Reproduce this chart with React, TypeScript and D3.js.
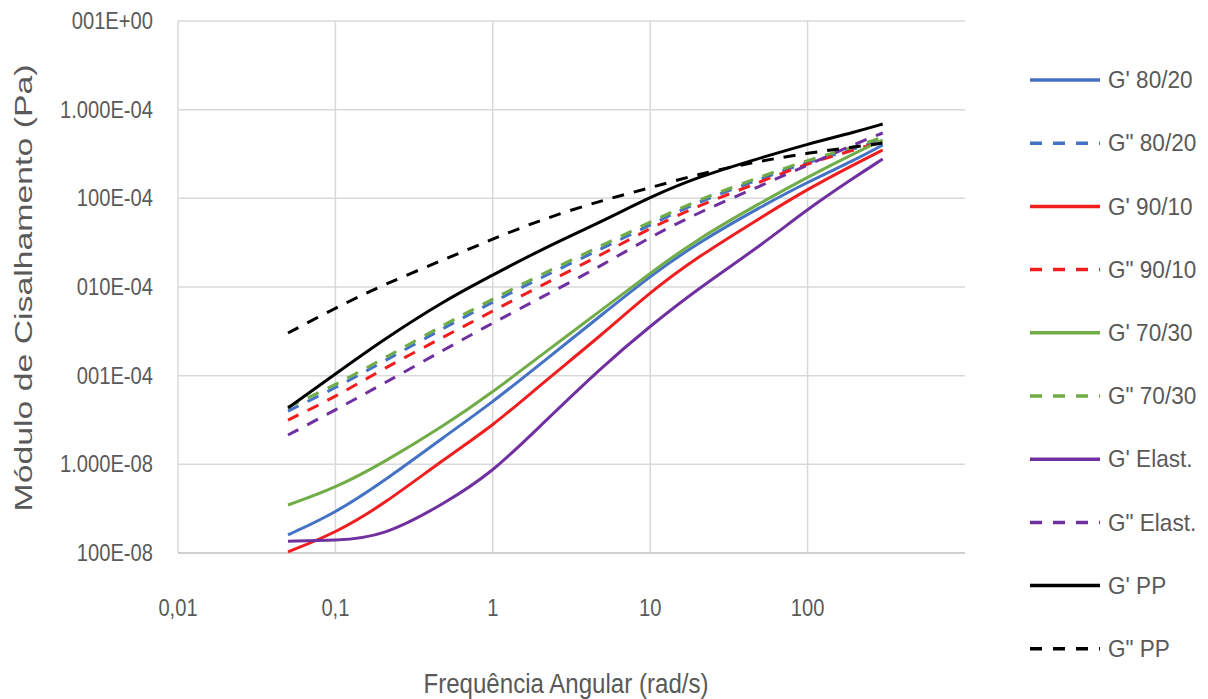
import React from "react";
import * as d3 from "d3";

const freq = [0.05, 0.1, 0.2, 0.5, 1, 2, 5, 10, 20, 50, 100, 200, 300];

const gp8020 = [1.6, 2.83, 6.32, 20.9, 50.5, 135, 496, 1331, 3135, 7984, 15280, 27060, 39950];
const gpp8020 = [39.9, 72.6, 142.6, 354, 677, 1262, 2754, 5003, 9092, 16520, 25700, 35980, 46670];
const gp9010 = [1.03, 1.68, 3.48, 11.8, 27.1, 78.5, 295, 878, 2179, 6000, 12740, 24380, 35080];
const gpp9010 = [31.6, 57.5, 119, 280, 536, 1026, 2355, 4626, 8185, 15280, 25000, 35080, 44340];
const gp7030 = [3.48, 5.41, 10.35, 27.8, 65.4, 166.7, 564.8, 1438, 3477, 8857, 17400, 32440, 45490];
const gpp7030 = [44.3, 78.5, 154, 383, 732, 1365, 2978, 5410, 9572, 17400, 27060, 37930, 49170];
const gpElast = [1.36, 1.38, 1.52, 3.66, 8.2, 27.1, 128.5, 363, 949, 2900, 7580, 17400, 27770];
const gppElast = [21.4, 41.0, 80.5, 200, 393, 751, 1771, 3664, 6834, 13770, 23770, 41020, 54550];
const gpPP = [43.2, 104.5, 252.5, 713.5, 1365, 2614, 5551, 10350, 17400, 28500, 41000, 55980, 68870];
const gppPP = [303, 579, 1054, 2069, 3476, 5700, 9572, 13070, 18790, 26370, 32450, 37930, 42070];

const seriesNames = ["G' 80/20", 'G" 80/20', "G' 90/10", 'G" 90/10', "G' 70/30", 'G" 70/30', "G' Elast.", 'G" Elast.', "G' PP", 'G" PP'];
const seriesValues = [gp8020, gpp8020, gp9010, gpp9010, gp7030, gpp7030, gpElast, gppElast, gpPP, gppPP];
const seriesColors = ["#4472C4", "#4472C4", "#F01E1E", "#F01E1E", "#70AD47", "#70AD47", "#7030A0", "#7030A0", "#000000", "#000000"];
const seriesDashed = [false, true, false, true, false, true, false, true, false, true];

const xTickValues = [0.01, 0.1, 1, 10, 100];
const xTickLabels = ["0,01", "0,1", "1", "10", "100"];
const yTickValues = [1, 10, 100, 1000, 10000, 100000, 1000000];
const yTickLabels = ["100E-08", "1.000E-08", "001E-04", "010E-04", "100E-04", "1.000E-04", "001E+00"];

const W = 1208;
const H = 699;
const left = 178;
const right = 965;
const top = 21;
const bottom = 553;
const textColor = "#595959";
const font = "'Liberation Sans', Arial, sans-serif";

export default function App() {
  const x = d3.scaleLog().domain([0.01, 1000]).range([left, right]);
  const y = d3.scaleLog().domain([1, 1e6]).range([bottom, top]);
  const line = d3
    .line<[number, number]>()
    .x((d) => x(d[0]))
    .y((d) => y(d[1]))
    .curve(d3.curveBasis);

  const legendX0 = 1030;
  const legendX1 = 1100;
  const legendY0 = 80;
  const legendStep = 63.2;

  return (
    <svg
      width={W}
      height={H}
      style={{ position: "absolute", left: 0, top: 0, background: "#fff" }}
    >
      <rect x={0} y={0} width={W} height={H} fill="#fff" />
      {/* grid */}
      {yTickValues.map((v) => (
        <line key={"gy" + v} x1={left} x2={right} y1={y(v)} y2={y(v)} stroke="#d9d9d9" strokeWidth={1.5} />
      ))}
      {xTickValues.map((v) => (
        <line key={"gx" + v} x1={x(v)} x2={x(v)} y1={top} y2={bottom} stroke="#d9d9d9" strokeWidth={1.5} />
      ))}
      <line x1={left} x2={right} y1={bottom} y2={bottom} stroke="#c8c8c8" strokeWidth={1.5} />
      {/* y tick labels */}
      {yTickValues.map((v, i) => (
        <g key={"yl" + v} transform={`translate(153, ${y(v)}) scale(0.84, 1)`}>
          <text
            x={0}
            y={0}
            textAnchor="end"
            dominantBaseline="central"
            fontFamily={font}
            fontSize={24}
            fill={textColor}
          >
            {yTickLabels[i]}
          </text>
        </g>
      ))}
      {/* x tick labels */}
      {xTickValues.map((v, i) => (
        <g key={"xl" + v} transform={`translate(${x(v)}, 608) scale(0.84, 1)`}>
          <text
            x={0}
            y={0}
            textAnchor="middle"
            dominantBaseline="central"
            fontFamily={font}
            fontSize={24}
            fill={textColor}
          >
            {xTickLabels[i]}
          </text>
        </g>
      ))}
      {/* axis titles */}
      <g transform="translate(566, 683) scale(0.86, 1)">
        <text
          x={0}
          y={0}
          textAnchor="middle"
          dominantBaseline="central"
          fontFamily={font}
          fontSize={28}
          fill={textColor}
        >
          Frequência Angular (rad/s)
        </text>
      </g>
      <text
        transform={`translate(32, 288) rotate(-90)`}
        textAnchor="middle"
        fontFamily={font}
        fontSize={23}
        fill={textColor}
        textLength={447}
        lengthAdjust="spacingAndGlyphs"
      >
        Módulo de Cisalhamento (Pa)
      </text>
      {/* series */}
      {seriesValues.map((vals, i) => {
        const pts: [number, number][] = freq.map((f, j) => [f, vals[j]]);
        return (
          <path
            key={"s" + i}
            d={line(pts) || ""}
            fill="none"
            stroke={seriesColors[i]}
            strokeWidth={3}
            strokeDasharray={seriesDashed[i] ? "12,10" : undefined}
            strokeLinejoin="round"
          />
        );
      })}
      {/* legend */}
      {seriesNames.map((name, i) => {
        const ly = legendY0 + i * legendStep;
        return (
          <g key={"lg" + i}>
            <line
              x1={legendX0}
              x2={legendX1}
              y1={ly}
              y2={ly}
              stroke={seriesColors[i]}
              strokeWidth={3.5}
              strokeDasharray={seriesDashed[i] ? "12,11" : undefined}
            />
            <g transform={`translate(1108, ${ly}) scale(0.94, 1)`}>
              <text
                x={0}
                y={0}
                dominantBaseline="central"
                fontFamily={font}
                fontSize={24}
                fill={textColor}
              >
                {name}
              </text>
            </g>
          </g>
        );
      })}
    </svg>
  );
}
